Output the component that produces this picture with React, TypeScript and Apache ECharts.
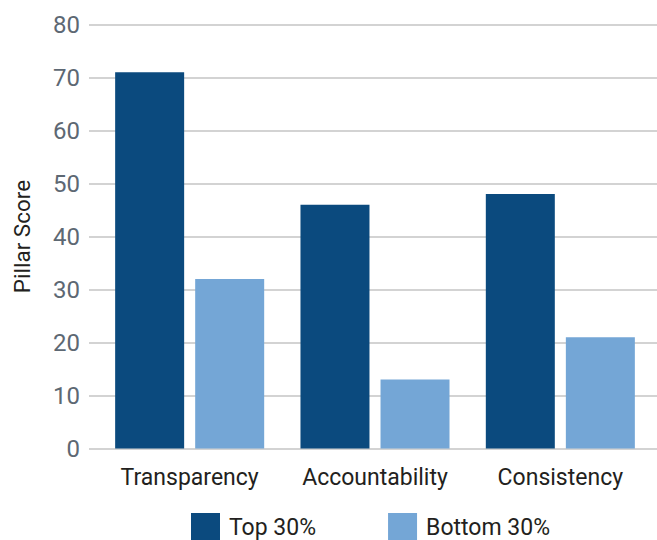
import React, { useEffect, useRef } from "react";
import * as echarts from "echarts";

const categories = ["Transparency", "Accountability", "Consistency"];
const top30 = [71, 46, 48];
const bottom30 = [32, 13, 21];
const seriesNames = ["Top 30%", "Bottom 30%"];
const yTicks = { min: 0, max: 80, interval: 10 };

const FONT = "Roboto, 'Liberation Sans', sans-serif";

export default function App() {
  const ref = useRef<HTMLDivElement>(null);
  useEffect(() => {
    if (!ref.current) return;
    const chart = echarts.init(ref.current, undefined, { renderer: "svg" });
    chart.setOption({
      animation: false,
      textStyle: { fontFamily: FONT },
      grid: [
        { left: 97, right: 4, top: 24.5, bottom: 91.5 },
        { left: 89, right: 0, top: 24.5, bottom: 91.5 },
      ],
      xAxis: [
        {
          type: "category",
          gridIndex: 0,
          data: categories,
          axisLine: { show: false },
          axisTick: { show: false },
          axisLabel: { interval: 0, fontSize: 23, color: "#231f20", margin: 17, fontFamily: FONT },
        },
        { type: "category", gridIndex: 1, data: categories, show: false },
      ],
      yAxis: [
        {
          type: "value",
          gridIndex: 0,
          ...yTicks,
          splitLine: { show: false },
          axisLine: { show: false },
          axisTick: { show: false },
          axisLabel: { fontSize: 24, color: "#5d6873", margin: 17, fontFamily: FONT },
          name: "Pillar Score",
          nameLocation: "middle",
          nameGap: 64,
          nameTextStyle: { fontSize: 22.5, color: "#231f20", fontFamily: FONT },
        },
        {
          type: "value",
          gridIndex: 1,
          ...yTicks,
          axisLabel: { show: false },
          axisLine: { show: false },
          axisTick: { show: false },
          splitLine: { show: true, lineStyle: { color: "#d3d3d3", width: 2 } },
        },
      ],
      legend: {
        left: 191,
        top: 513,
        padding: 0,
        itemWidth: 29,
        itemHeight: 29,
        itemGap: 72,
        icon: "rect",
        textStyle: { fontSize: 23, color: "#231f20", padding: [0, 0, 0, 4], fontFamily: FONT },
        data: seriesNames,
      },
      series: [
        {
          name: seriesNames[0],
          type: "bar",
          xAxisIndex: 0,
          yAxisIndex: 0,
          data: top30,
          barWidth: 69,
          barGap: "16%",
          itemStyle: { color: "#0b4a7e" },
        },
        {
          name: seriesNames[1],
          type: "bar",
          xAxisIndex: 0,
          yAxisIndex: 0,
          data: bottom30,
          barWidth: 69,
          barGap: "16%",
          itemStyle: { color: "#74a6d6" },
        },
      ],
    });
    return () => chart.dispose();
  }, []);
  return <div ref={ref} style={{ width: 657, height: 540, position: "absolute", left: 0, top: 0 }} />;
}
